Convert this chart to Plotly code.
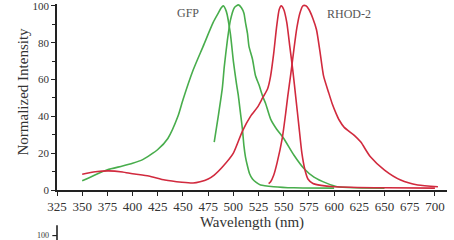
import plotly.graph_objects as go

# ---- data ----
gfp_ex_wl = [350, 360, 375, 390, 400, 410, 425, 435, 445, 450, 460, 470, 480, 485, 488, 490, 493, 497, 500, 503, 505, 507, 509, 510.5, 512, 514, 516, 519, 523, 527, 540, 560, 600]
gfp_ex_val = [5, 7.5, 11, 13, 14.5, 16.5, 22, 28, 40, 49, 65, 78, 91, 96, 99, 100, 97, 85, 70, 58, 51, 42, 33, 24, 18, 13, 9, 6, 4, 2.7, 1.8, 1.2, 1]

gfp_em_wl = [481, 485, 489, 491, 494, 497, 501, 505, 508, 510.5, 512, 514, 515.5, 519, 522, 525.5, 529, 532, 537, 543, 550, 560, 570, 580, 593, 603, 620, 650]
gfp_em_val = [26, 40, 55, 67, 81, 92, 99, 100.5, 99, 96, 91, 85, 78, 71, 62, 57, 51, 47, 38.5, 33, 28, 19, 11.7, 7, 3.6, 1.8, 1.2, 1]

rhod_ex_wl = [350, 363, 376, 390, 400, 416, 432, 449, 460, 467, 475, 481, 490, 500, 509, 517, 524, 529, 534, 537, 540, 543, 545.5, 547.5, 550, 553, 556, 559, 562, 565, 568, 571, 574, 579, 587, 600, 650, 700]
rhod_ex_val = [8.6, 9.9, 10.4, 9.8, 8.8, 7.6, 5.4, 4.2, 3.8, 4.5, 6, 8.1, 13, 20, 32, 40, 45, 50, 55, 62, 74, 89, 98, 100, 98, 91, 78, 65, 50, 35, 20, 11, 6, 3.5, 2.5, 1.8, 1.2, 1]

rhod_em_wl = [535, 537, 540, 543.5, 548.5, 552, 554, 557, 560, 563, 566, 569, 572, 575, 579, 582.5, 586, 589.5, 594.5, 598, 602, 605, 610, 620, 626.5, 636, 650, 666, 683, 703]
rhod_em_val = [3.5, 4.5, 8, 15, 28, 42, 51, 63, 76, 88, 96, 100, 100, 98, 93, 87, 75, 62, 53, 47, 41.5, 38, 34, 29.7, 26, 18, 10.8, 5.4, 2.7, 1.8]

x_ticks = [325, 350, 375, 400, 425, 450, 475, 500, 525, 550, 575, 600, 625, 650, 675, 700]
y_ticks = [0, 20, 40, 60, 80, 100]
labels = ["GFP", "RHOD-2"]
label_x = [455, 615]
label_y = [96, 95.5]

GREEN = "#48ad4c"
RED = "#d12a3e"
SERIF = "Liberation Serif"

fig = go.Figure()
for wl, val, col in [(gfp_ex_wl, gfp_ex_val, GREEN), (gfp_em_wl, gfp_em_val, GREEN),
                     (rhod_ex_wl, rhod_ex_val, RED), (rhod_em_wl, rhod_em_val, RED)]:
    fig.add_trace(go.Scatter(x=wl, y=val, mode="lines",
                             line=dict(color=col, width=1.6, shape="spline", smoothing=0.6),
                             showlegend=False, hoverinfo="skip"))

for t, x, y in zip(labels, label_x, label_y):
    fig.add_annotation(x=x, y=y, text=t, showarrow=False,
                       font=dict(family=SERIF, size=12, color="#555555"))

# y-axis title as annotation
fig.add_annotation(xref="paper", yref="paper", x=-0.087, y=0.53, text="Normalized Intensity",
                   textangle=-90, showarrow=False, xanchor="center", yanchor="middle",
                   font=dict(family=SERIF, size=15, color="#333333"))

# cut-off top of the panel below
fig.add_shape(type="line", xref="paper", yref="paper", x0=0, x1=0, y0=-0.19, y1=-0.28,
              line=dict(color="#222222", width=1.6))
fig.add_shape(type="line", xref="paper", yref="paper", x0=-0.012, x1=0, y0=-0.245, y1=-0.245,
              line=dict(color="#222222", width=1.2))
fig.add_annotation(xref="paper", yref="paper", x=-0.015, y=-0.245, text="100", showarrow=False,
                   xanchor="right", yanchor="middle",
                   font=dict(family=SERIF, size=8, color="#333333"))

fig.update_layout(
    width=454, height=240,
    margin=dict(l=57, r=7, t=4, b=50, autoexpand=False),
    paper_bgcolor="white", plot_bgcolor="white",
    font=dict(family=SERIF, color="#333333"),
    xaxis=dict(range=[325, 712], tickvals=x_ticks, ticks="outside", ticklen=4,
               tickcolor="#222222", tickwidth=1.2, automargin=False, ticklabeloverflow="allow",
               showline=True, linecolor="#222222", linewidth=1.6, showgrid=False, zeroline=False,
               tickfont=dict(family=SERIF, size=13, color="#333333"),
               title=dict(text="Wavelength (nm)", font=dict(family=SERIF, size=15, color="#333333"), standoff=2)),
    yaxis=dict(range=[0, 101], tickvals=y_ticks, ticks="outside", ticklen=4,
               tickcolor="#222222", tickwidth=1.2, automargin=False, ticklabeloverflow="allow",
               minor=dict(ticks="outside", ticklen=3, dtick=10, tickcolor="#222222", tickwidth=1),
               showline=True, linecolor="#222222", linewidth=1.6, showgrid=False, zeroline=False,
               tickfont=dict(family=SERIF, size=11, color="#333333")),
)

fig.write_html("out.html", config={"displayModeBar": False},
               post_script="document.body.style.margin='0';document.body.style.overflow='hidden';")
